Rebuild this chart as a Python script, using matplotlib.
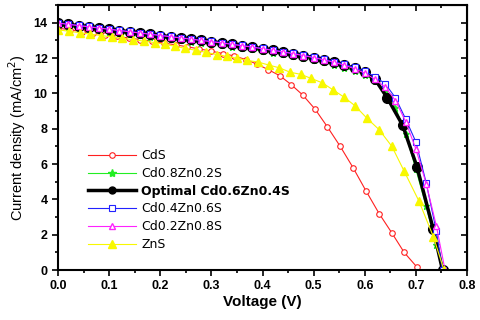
import matplotlib
matplotlib.use('Agg')
import matplotlib.pyplot as plt
from matplotlib.ticker import MultipleLocator

plt.rcParams['font.family'] = ['Liberation Sans', 'DejaVu Sans']

# J-V data (V in volts, J in mA/cm2)
v_cds = [0.0, 0.023, 0.046, 0.069, 0.092, 0.115, 0.138, 0.161, 0.184, 0.207, 0.230,
         0.253, 0.276, 0.299, 0.322, 0.345, 0.367, 0.389, 0.411, 0.434, 0.456, 0.479,
         0.503, 0.527, 0.552, 0.577, 0.602, 0.628, 0.653, 0.677, 0.702]
j_cds = [13.70, 13.60, 13.50, 13.41, 13.32, 13.23, 13.14, 13.05, 12.95, 12.85, 12.75,
         12.64, 12.52, 12.40, 12.26, 12.12, 11.92, 11.66, 11.35, 11.00, 10.50, 9.90,
         9.10, 8.10, 7.00, 5.80, 4.50, 3.20, 2.10, 1.00, 0.17]

v_main = [0.0, 0.02, 0.04, 0.06, 0.08, 0.10, 0.12, 0.14, 0.16, 0.18, 0.20, 0.22, 0.24,
          0.26, 0.28, 0.30, 0.32, 0.34, 0.36, 0.38, 0.40, 0.42, 0.44, 0.46, 0.48, 0.50,
          0.52, 0.54, 0.56, 0.58, 0.60, 0.62, 0.64, 0.66, 0.68, 0.70, 0.72, 0.74, 0.752]
j_cd08 = [13.85, 13.78, 13.71, 13.64, 13.57, 13.50, 13.43, 13.36, 13.29, 13.22, 13.15,
          13.08, 13.01, 12.94, 12.87, 12.80, 12.73, 12.65, 12.57, 12.49, 12.40, 12.31,
          12.22, 12.12, 12.01, 11.89, 11.76, 11.62, 11.45, 11.27, 11.05, 10.70, 10.10,
          9.20, 7.70, 5.70, 3.60, 1.40, 0.0]
j_cd04 = [14.00, 13.93, 13.86, 13.79, 13.72, 13.65, 13.58, 13.51, 13.44, 13.37, 13.30,
          13.23, 13.16, 13.09, 13.02, 12.95, 12.88, 12.80, 12.72, 12.64, 12.55, 12.46,
          12.37, 12.27, 12.17, 12.06, 11.94, 11.80, 11.65, 11.47, 11.25, 10.95, 10.55,
          9.75, 8.55, 7.25, 4.95, 2.20, 0.0]

v_cd02 = [0.0, 0.02, 0.04, 0.06, 0.08, 0.10, 0.12, 0.14, 0.16, 0.18, 0.20, 0.22, 0.24,
          0.26, 0.28, 0.30, 0.32, 0.34, 0.36, 0.38, 0.40, 0.42, 0.44, 0.46, 0.48, 0.50,
          0.52, 0.54, 0.56, 0.58, 0.60, 0.62, 0.64, 0.66, 0.68, 0.70, 0.72, 0.74, 0.757]
j_cd02 = [13.98, 13.91, 13.84, 13.77, 13.70, 13.63, 13.56, 13.49, 13.42, 13.35, 13.28,
          13.21, 13.14, 13.07, 13.00, 12.93, 12.86, 12.78, 12.70, 12.62, 12.53, 12.44,
          12.35, 12.25, 12.14, 12.03, 11.90, 11.76, 11.60, 11.40, 11.15, 10.80, 10.35,
          9.60, 8.40, 6.85, 4.90, 2.50, 0.0]

v_opt = [0.0, 0.02, 0.04, 0.06, 0.08, 0.10, 0.12, 0.14, 0.16, 0.18, 0.20, 0.22, 0.24,
         0.26, 0.28, 0.30, 0.32, 0.34, 0.36, 0.38, 0.40, 0.42, 0.44, 0.46, 0.48, 0.50,
         0.52, 0.54, 0.56, 0.58, 0.60, 0.62, 0.644, 0.674, 0.702, 0.734, 0.752]
j_opt = [13.98, 13.91, 13.84, 13.77, 13.70, 13.63, 13.56, 13.49, 13.42, 13.35, 13.28,
         13.21, 13.14, 13.07, 13.00, 12.93, 12.86, 12.78, 12.70, 12.62, 12.53, 12.44,
         12.35, 12.25, 12.14, 12.03, 11.90, 11.76, 11.60, 11.42, 11.20, 10.80, 9.75,
         8.20, 5.85, 2.30, 0.0]

v_zns = [0.0, 0.021, 0.042, 0.063, 0.084, 0.105, 0.126, 0.147, 0.168, 0.189, 0.209,
         0.229, 0.249, 0.270, 0.290, 0.311, 0.330, 0.350, 0.370, 0.391, 0.413, 0.433,
         0.454, 0.475, 0.495, 0.517, 0.538, 0.559, 0.581, 0.604, 0.628, 0.653, 0.677,
         0.706, 0.734, 0.755]
j_zns = [13.60, 13.52, 13.44, 13.36, 13.28, 13.20, 13.12, 13.04, 12.96, 12.88, 12.78,
         12.67, 12.55, 12.44, 12.32, 12.20, 12.10, 11.99, 11.87, 11.78, 11.60, 11.45,
         11.20, 11.08, 10.85, 10.60, 10.20, 9.80, 9.30, 8.60, 7.95, 7.00, 5.60,
         3.90, 1.90, 0.0]

labels = ['CdS', 'Cd0.8Zn0.2S', 'Optimal Cd0.6Zn0.4S', 'Cd0.4Zn0.6S', 'Cd0.2Zn0.8S', 'ZnS']

fig = plt.figure(figsize=(4.8, 3.2), dpi=100)
ax = fig.add_axes([0.121, 0.156, 0.852, 0.828])

ax.plot(v_cds, j_cds, color='#ff2020', lw=0.8, marker='o', ms=4,
        mfc='white', mec='#ff2020', mew=0.8, label=labels[0])
ax.plot(v_main, j_cd08, color='#22ee22', lw=0.8, marker='*', ms=5,
        mfc='#22ee22', mec='#22ee22', label=labels[1])
ax.plot(v_opt, j_opt, color='black', lw=2.5, marker='o', ms=7,
        mfc='black', mec='black', label=labels[2])
ax.plot(v_main, j_cd04, color='#2222ff', lw=0.8, marker='s', ms=4,
        mfc='white', mec='#2222ff', mew=0.8, label=labels[3])
ax.plot(v_cd02, j_cd02, color='#ff22ff', lw=0.8, marker='^', ms=5,
        mfc='white', mec='#ff22ff', mew=1.0, label=labels[4])
ax.plot(v_zns, j_zns, color='#f8f800', lw=0.8, marker='^', ms=6,
        mfc='#f8f800', mec='#f8f800', label=labels[5])

ax.set_xlim(0, 0.8)
ax.set_ylim(0, 15)
ax.xaxis.set_major_locator(MultipleLocator(0.1))
ax.xaxis.set_minor_locator(MultipleLocator(0.05))
ax.yaxis.set_major_locator(MultipleLocator(2))
ax.yaxis.set_minor_locator(MultipleLocator(1))
ax.set_xticklabels(['%.1f' % t for t in ax.get_xticks()])

for s in ax.spines.values():
    s.set_linewidth(1.5)
ax.tick_params(which='both', direction='out', top=False, right=False, width=1.2)
ax.tick_params(which='major', length=4, labelsize=9)
ax.tick_params(which='minor', length=2.5)
for lab in ax.get_xticklabels() + ax.get_yticklabels():
    lab.set_fontweight('bold')

# inward ticks on top and right
tx = ax.secondary_xaxis('top')
tx.xaxis.set_major_locator(MultipleLocator(0.1))
tx.xaxis.set_minor_locator(MultipleLocator(0.05))
tx.tick_params(which='both', direction='in', labeltop=False, width=1.2)
tx.tick_params(which='major', length=4)
tx.tick_params(which='minor', length=2.5)
ty = ax.secondary_yaxis('right')
ty.yaxis.set_major_locator(MultipleLocator(2))
ty.yaxis.set_minor_locator(MultipleLocator(1))
ty.tick_params(which='both', direction='in', labelright=False, width=1.2)
ty.tick_params(which='major', length=4)
ty.tick_params(which='minor', length=2.5)

ax.set_xlabel('Voltage (V)', fontsize=11, fontweight='bold', labelpad=2)
ax.set_ylabel('Current density (mA/cm$^2$)', fontsize=10.5, labelpad=4)

leg = ax.legend(loc='upper left', bbox_to_anchor=(0.06, 0.475), frameon=False,
                fontsize=9, handlelength=3.9, handletextpad=0.4, labelspacing=0.38,
                borderaxespad=0)
for t in leg.get_texts():
    t.set_family(['DejaVu Sans'])
leg.get_texts()[2].set_fontweight('bold')
for h, ms in zip(leg.legend_handles, [4, 6, 5, 4, 5, 6]):
    h.set_markersize(ms)

fig.savefig('out.png', dpi=100)
